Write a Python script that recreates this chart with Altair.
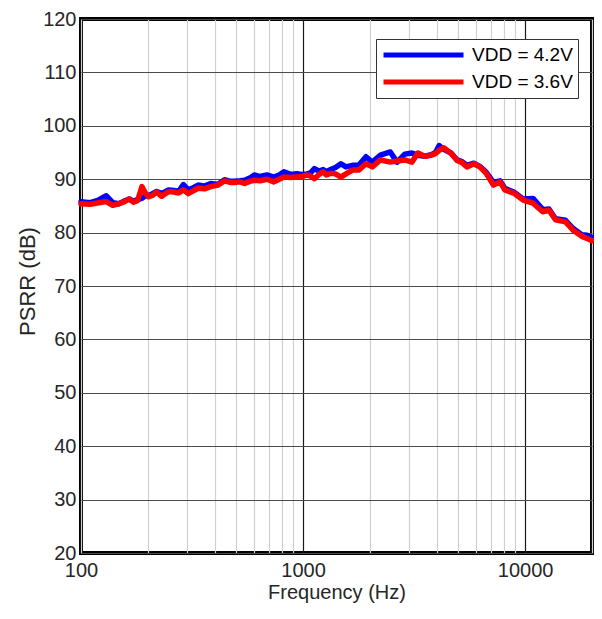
import altair as alt
import pandas as pd

# Frequency points (Hz)
freq = [100, 110, 120, 130, 139, 148, 157, 165, 172, 180,
        188, 195, 202, 210, 219, 231, 248, 262, 275, 289,
        304, 320, 337, 360, 384, 413, 443, 470, 490, 520,
        545, 575, 603, 640, 688, 739, 780, 820, 880, 937,
        990, 1040, 1080, 1125, 1180, 1230, 1271, 1330, 1400, 1480,
        1560, 1670, 1780, 1920, 2050, 2230, 2470, 2650, 2870, 3090,
        3290, 3530, 3780, 3950, 4100, 4300, 4640, 4940, 5200, 5470,
        5870, 6250, 6680, 7200, 7700, 8100, 8880, 9800, 10850, 12000,
        12800, 13700, 15200, 16400, 18000, 19000, 20000]

# PSRR (dB), VDD = 4.2V
psrr_42 = [85.8, 85.6, 86.1, 86.9, 85.6, 85.4, 85.9, 86.3, 85.9, 86.2,
           86.4, 86.9, 86.9, 87.3, 87.7, 87.3, 88.0, 87.9, 87.7, 89.0,
           88.0, 88.4, 88.9, 88.7, 89.2, 89.0, 89.9, 89.6, 89.6, 89.7,
           89.8, 90.2, 90.8, 90.5, 90.8, 90.4, 90.8, 91.4, 90.9, 91.0,
           90.9, 91.0, 91.2, 92.0, 91.5, 91.8, 91.4, 91.8, 92.2, 92.9,
           92.3, 92.6, 92.6, 94.2, 93.2, 94.5, 95.1, 93.2, 94.7, 94.9,
           94.5, 94.3, 94.6, 95.0, 96.3, 95.6, 94.9, 93.6, 93.3, 92.6,
           93.0, 92.4, 91.3, 89.4, 89.7, 88.3, 87.6, 86.3, 86.4, 84.3,
           84.4, 82.6, 82.3, 80.8, 79.6, 79.5, 79.1]

# PSRR (dB), VDD = 3.6V
psrr_36 = [85.4, 85.3, 85.6, 85.8, 85.1, 85.4, 85.8, 86.3, 85.7, 86.0,
           88.6, 87.4, 86.7, 87.0, 87.6, 86.8, 87.7, 87.6, 87.4, 88.0,
           87.3, 87.8, 88.3, 88.2, 88.6, 88.9, 89.7, 89.4, 89.4, 89.5,
           89.2, 89.6, 89.8, 89.7, 90.0, 89.5, 90.0, 90.4, 90.3, 90.4,
           90.5, 90.8, 90.6, 90.1, 90.9, 91.4, 90.8, 91.1, 91.0, 90.4,
           91.0, 91.7, 91.7, 92.9, 92.3, 93.6, 93.2, 93.4, 93.6, 93.2,
           94.9, 94.3, 94.5, 94.8, 95.4, 95.9, 94.8, 93.5, 93.1, 92.3,
           92.9, 92.3, 91.1, 88.9, 89.5, 88.0, 87.4, 86.1, 85.5, 83.9,
           84.2, 82.4, 82.0, 80.5, 79.3, 78.9, 78.5]

series_names = ["VDD = 4.2V", "VDD = 3.6V"]
series_colors = ["#0000ff", "#ff0000"]

x_ticks = [100, 200, 300, 400, 500, 600, 700, 800, 900,
           1000, 2000, 3000, 4000, 5000, 6000, 7000, 8000, 9000,
           10000, 20000]
y_ticks = [20, 30, 40, 50, 60, 70, 80, 90, 100, 110, 120]

df = pd.concat([
    pd.DataFrame({"f": freq, "psrr": psrr_42, "series": series_names[0], "order": range(len(freq))}),
    pd.DataFrame({"f": freq, "psrr": psrr_36, "series": series_names[1], "order": range(len(freq))}),
], ignore_index=True)

FONT = "Liberation Sans"

chart = alt.Chart(df).mark_line(strokeWidth=5.5, strokeJoin="round", strokeCap="round").encode(
    x=alt.X("f:Q",
            scale=alt.Scale(type="log", domain=[100, 20000], nice=False),
            axis=alt.Axis(
                title="Frequency (Hz)",
                values=x_ticks,
                format="d",
                labelExpr="(datum.value == 100 || datum.value == 1000 || datum.value == 10000) ? datum.label : ''",
                labelOverlap=False,
                labelFlush=False,
                labelFontSize=20,
                labelPadding=7,
                ticks=False,
                tickSize=0,
                domain=False,
                grid=True,
                gridColor={"condition": {"test": "datum.value == 1000 || datum.value == 10000", "value": "#1a1a1a"}, "value": "#d0d0d0"},
                gridWidth=1.2,
                titleFontSize=20,
                titleFontWeight="normal",
                titleY=29,
                titleBaseline="top",
            )),
    y=alt.Y("psrr:Q",
            scale=alt.Scale(domain=[20, 120], nice=False, zero=False),
            axis=alt.Axis(
                title="PSRR (dB)",
                values=y_ticks,
                labelFontSize=20,
                labelPadding=5,
                ticks=False,
                tickSize=0,
                domain=False,
                grid=True,
                gridColor="#4a4a4a",
                gridWidth=1.2,
                titleFontSize=22,
                titleFontWeight="normal",
                titleX=-54,
                titleY=262,
                titleAlign="center",
                titleBaseline="middle",
                titleAngle=270,
            )),
    color=alt.Color("series:N",
                    scale=alt.Scale(domain=series_names, range=series_colors),
                    legend=alt.Legend(
                        title=None,
                        orient="none",
                        legendX=295,
                        legendY=20,
                        fillColor="white",
                        strokeColor="#333333",
                        padding=5,
                        clipHeight=22,
                        rowPadding=5,
                        symbolType="stroke",
                        symbolSize=6400,
                        symbolStrokeWidth=5,
                        labelFontSize=19,
                        labelOffset=6,
                        labelColor="#000000",
                    )),
    order=alt.Order("order:Q"),
    detail="series:N",
).properties(
    width=511,
    height=534,
    autosize=alt.AutoSizeParams(type="none"),
    padding={"left": 73, "top": 11, "right": 2, "bottom": 51},
).configure(
    font=FONT,
).configure_view(
    stroke="#000000",
    strokeWidth=4,
    fill="white",
).configure_axis(
    labelColor="#262626",
    titleColor="#262626",
    labelFont=FONT,
    titleFont=FONT,
).configure_legend(
    labelFont=FONT,
)

chart.save("out.html", embed_options={"renderer": "svg", "actions": False})
